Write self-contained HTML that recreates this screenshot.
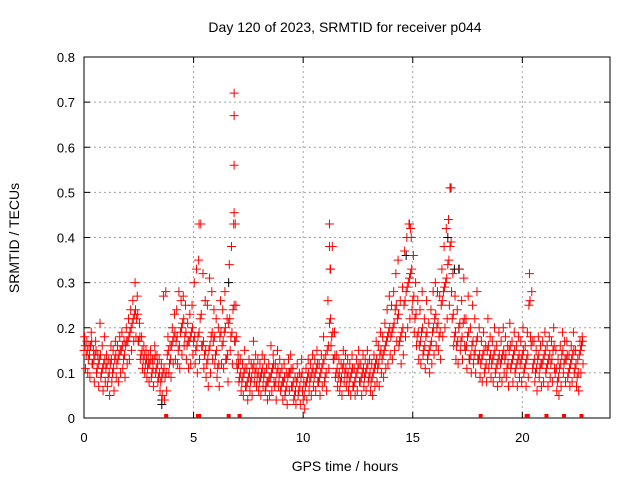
<!DOCTYPE html>
<html><head><meta charset="utf-8"><style>
body{margin:0;background:#fff;}
svg{display:block;font-family:"Liberation Sans",sans-serif;}
</style></head><body>
<svg id="chart" width="640" height="480" viewBox="0 0 640 480">
<rect x="0" y="0" width="640" height="480" fill="#fff"/>
<g id="grid"></g>
<g id="axes"></g>
<g id="marks"></g>
<text x="345" y="32" text-anchor="middle" font-size="14">Day 120 of 2023, SRMTID for receiver p044</text>
<text transform="translate(19,238) rotate(-90)" text-anchor="middle" font-size="14">SRMTID / TECUs</text>
<text x="345" y="471" text-anchor="middle" font-size="14">GPS time / hours</text>
</svg>
<script>
const xTicks=[0,5,10,15,20];
const yTicks=[0,0.1,0.2,0.3,0.4,0.5,0.6,0.7,0.8];
const layerA=[.15,.14,.13,.16,.12,.14,.11,.13,.10,.12,
.11,.09,.12,.10,.13,.12,.14,.15,.13,.16,
.17,.19,.21,.23,.22,.17,.14,.13,.12,.11,
.12,.10,.13,.11,.09,.08,.10,.09,.14,.12,
.16,.18,.17,.15,.19,.21,.18,.16,.17,.19,
.17,.15,.18,.22,.16,.14,.12,.15,.18,.17,
.14,.11,.18,.16,.19,.13,.21,.18,.24,.17,
.11,.09,.08,.10,.07,.09,.08,.11,.10,.09,
.08,.10,.09,.07,.08,.09,.11,.07,.10,.09,
.07,.08,.06,.09,.10,.07,.05,.08,.06,.09,
.04,.07,.09,.08,.10,.09,.11,.08,.10,.12,
.09,.15,.21,.18,.13,.10,.09,.08,.11,.10,
.09,.08,.10,.07,.09,.11,.08,.10,.09,.11,
.09,.08,.10,.12,.11,.14,.13,.15,.17,.19,
.18,.20,.24,.22,.17,.19,.25,.28,.30,.32,
.26,.22,.18,.16,.19,.15,.18,.14,.16,.19,
.22,.20,.18,.25,.28,.30,.34,.38,.22,.18,
.16,.20,.17,.21,.15,.18,.13,.16,.14,.17,
.13,.12,.14,.11,.15,.13,.12,.14,.11,.13,
.12,.14,.13,.11,.15,.12,.14,.11,.13,.12,
.14,.11,.13,.25,.16,.12,.10,.13,.11,.12,
.14,.11,.13,.12,.15,.10,.08,.11,.14,.12,
.13,.10,.12,.14,.11,.09,.14,.16];
const layerB=[.18,.17,.16,.19,.15,.17,.14,.21,.16,.18,
.14,.13,.16,.15,.17,.16,.18,.19,.17,.20,
.22,.24,.26,.30,.27,.21,.18,.16,.15,.14,
.15,.13,.16,.14,.13,.12,.27,.28,.18,.16,
.20,.23,.24,.28,.26,.27,.25,.21,.23,.25,
.30,.33,.35,.43,.32,.26,.25,.31,.28,.24,
.22,.20,.26,.24,.28,.22,.34,.38,.43,.25,
.14,.13,.12,.15,.11,.13,.12,.17,.14,.13,
.12,.14,.13,.11,.12,.16,.14,.12,.15,.13,
.11,.12,.10,.13,.14,.11,.09,.12,.10,.13,
.08,.11,.13,.12,.14,.13,.15,.12,.14,.18,
.14,.26,.33,.38,.19,.14,.13,.12,.15,.14,
.13,.12,.14,.11,.13,.15,.12,.14,.13,.15,
.13,.12,.14,.17,.16,.19,.18,.21,.24,.27,
.25,.28,.32,.35,.26,.29,.37,.40,.43,.40,
.36,.30,.26,.24,.28,.22,.26,.21,.24,.28,
.30,.28,.27,.33,.38,.42,.44,.51,.32,.27,
.24,.33,.26,.31,.22,.27,.20,.25,.22,.28,
.20,.17,.19,.16,.22,.18,.17,.20,.16,.19,
.17,.20,.18,.16,.21,.17,.19,.16,.18,.17,
.20,.16,.19,.32,.28,.17,.15,.18,.16,.17,
.19,.16,.18,.17,.20,.15,.13,.16,.19,.17,
.17,.14,.16,.19,.15,.13,.17,.18];
const layerC=[.11,.10,.09,.12,.08,.10,.07,.09,.06,.08,
.07,.05,.08,.06,.09,.08,.10,.11,.09,.12,
.13,.15,.17,.18,.17,.13,.11,.10,.09,.08,
.09,.07,.10,.08,.06,.05,.04,.06,.10,.09,
.12,.13,.12,.11,.14,.16,.13,.11,.12,.14,
.12,.10,.13,.16,.11,.09,.07,.10,.13,.12,
.09,.07,.12,.11,.13,.08,.15,.12,.17,.12,
.08,.06,.05,.07,.04,.06,.05,.08,.07,.06,
.05,.07,.06,.04,.05,.06,.08,.04,.07,.06,
.04,.05,.03,.06,.07,.04,.03,.05,.03,.06,
.02,.04,.06,.05,.07,.06,.08,.05,.07,.08,
.06,.11,.16,.13,.09,.07,.06,.05,.08,.07,
.06,.05,.07,.05,.06,.08,.05,.07,.06,.08,
.06,.05,.07,.08,.07,.10,.09,.11,.12,.14,
.13,.15,.17,.16,.12,.14,.18,.20,.22,.24,
.19,.16,.13,.12,.14,.11,.13,.10,.12,.14,
.16,.15,.13,.18,.20,.22,.25,.28,.16,.13,
.12,.15,.13,.16,.11,.13,.10,.12,.10,.13,
.09,.08,.10,.08,.11,.09,.08,.10,.07,.09,
.08,.10,.09,.07,.11,.08,.10,.07,.09,.08,
.10,.07,.09,.18,.11,.08,.06,.09,.07,.08,
.10,.07,.09,.08,.11,.06,.05,.07,.10,.08,
.09,.07,.08,.10,.07,.06,.10,.12];
const spikeTimes=[6.85,6.85,6.85,6.85,6.9,11.2,11.2,11.25,5.25,16.7,16.75,14.85,14.9];
const spikeValues=[.72,.67,.56,.455,.43,.43,.38,.33,.43,.51,.51,.43,.42];
const blackTimes=[3.55,3.55,16.9,17.1,16.6,6.6,14.7];
const blackValues=[.03,.04,.33,.33,.40,.30,.36];
const gapTimes=[3.75,5.2,5.25,6.6,7.1,18.1,20.2,20.25,21.1,21.9,22.7];

const X0=84,X1=610,Y0=418,Y1=57,XMAX=24,YMAX=0.8;
const sx=t=>X0+t/XMAX*(X1-X0);
const sy=v=>Y0-v/YMAX*(Y0-Y1);
const NS='http://www.w3.org/2000/svg';
const grid=document.getElementById('grid'),axes=document.getElementById('axes'),marks=document.getElementById('marks');
function mk(tag,attrs,parent){const e=document.createElementNS(NS,tag);for(const k in attrs)e.setAttribute(k,attrs[k]);parent.appendChild(e);return e;}

yTicks.forEach(v=>{
  const y=sy(v);
  if(v>0&&v<YMAX){const g=mk('line',{x1:X0,x2:X1,y1:y,y2:y,stroke:'#a0a0a0','stroke-dasharray':'2,3','stroke-width':1},grid);
  
  }
  const t=mk('text',{x:X0-9,y:y+5,'text-anchor':'end','font-size':13},axes);t.textContent=v===0?'0':v.toFixed(1);
  
  
  mk('line',{x1:X0,x2:X0+6,y1:y,y2:y,stroke:'#000'},axes);
  mk('line',{x1:X1,x2:X1-6,y1:y,y2:y,stroke:'#000'},axes);
});
xTicks.forEach(v=>{
  const x=sx(v);
  if(v>0){const g=mk('line',{x1:x,x2:x,y1:Y0,y2:Y1,stroke:'#a0a0a0','stroke-dasharray':'2,3','stroke-width':1},grid);
  
  }
  const t=mk('text',{x:x,y:Y0+24,'text-anchor':'middle','font-size':13},axes);t.textContent=String(v);
  
  
  mk('line',{x1:x,x2:x,y1:Y0,y2:Y0-6,stroke:'#000'},axes);
  mk('line',{x1:x,x2:x,y1:Y1,y2:Y1+6,stroke:'#000'},axes);
});
const frame=mk('rect',{x:X0,y:Y1,width:X1-X0,height:Y0-Y1,fill:'none',stroke:'#000','stroke-width':1},axes);



function plus(t,v,color,name){
  const x=sx(t),y=sy(v);
  const p=mk('path',{d:`M${x-4.5} ${y}h9M${x} ${y-4.5}v9`,stroke:color,'stroke-width':1,fill:'none'},marks);
  
  
}
blackTimes.forEach((t,i)=>plus(t,blackValues[i],'#000','black-point'));
layerA.forEach((v,i)=>{plus(i*0.1,v,'#ff0000','srmtid-point');plus(i*0.1+0.05,v+0.01,'#ff0000','srmtid-point');});
layerB.forEach((v,i)=>plus(i*0.1+0.03,v,'#ff0000','srmtid-point'));
layerC.forEach((v,i)=>plus(i*0.1+0.07,v,'#ff0000','srmtid-point'));
spikeTimes.forEach((t,i)=>plus(t,spikeValues[i],'#ff0000','spike-point'));
gapTimes.forEach(t=>{
  const r=mk('rect',{x:sx(t)-2,y:Y0-4,width:4,height:4,fill:'#ff0000'},marks);
  
  
});
</script>
</body></html>
